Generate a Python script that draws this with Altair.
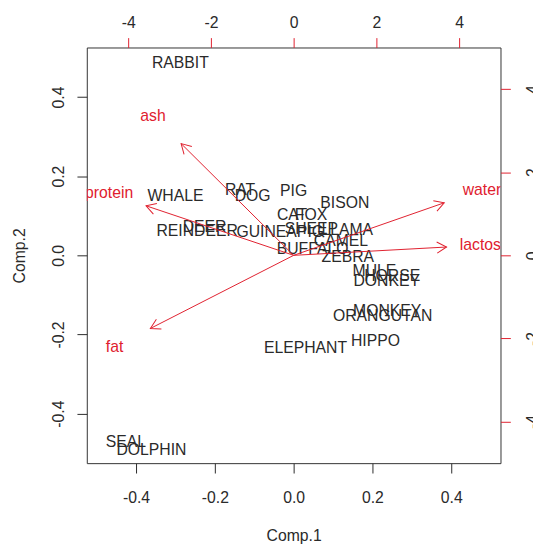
import altair as alt
import pandas as pd
import numpy as np

FONT = "Liberation Sans"
RED = "#E0202E"
DARK = "#2a2a2a"

# --- scores (Comp.1, Comp.2) ---
animals = ["RABBIT", "WHALE", "RAT", "DOG", "PIG", "DEER", "REINDEER", "GUINEAPIG",
           "CAT", "FOX", "SHEEP", "LLAMA", "BISON", "BUFFALO", "CAMEL", "ZEBRA",
           "MULE", "HORSE", "DONKEY", "MONKEY", "ORANGUTAN", "HIPPO", "ELEPHANT",
           "SEAL", "DOLPHIN"]
comp1 = [-0.2875, -0.300, -0.136, -0.104, 0.000, -0.226, -0.245, -0.034,
         -0.004, 0.044, 0.045, 0.136, 0.130, 0.048, 0.120, 0.1375,
         0.205, 0.250, 0.236, 0.2375, 0.226, 0.2075, 0.030,
         -0.426, -0.361]
comp2 = [0.485, 0.150, 0.165, 0.150, 0.1625, 0.0725, 0.0625, 0.0575,
         0.1025, 0.1025, 0.0675, 0.065, 0.1325, 0.015, 0.035, -0.005,
         -0.040, -0.053, -0.065, -0.140, -0.1525, -0.2175, -0.235,
         -0.4725, -0.4925]

# --- loadings (top/right scale) ---
variables = ["water", "protein", "fat", "lactose", "ash"]
load1 = [4.55, -4.46, -4.33, 4.62, -3.40]
load2 = [1.58, 1.49, -2.20, 0.25, 3.36]

x_ticks = [-0.4, -0.2, 0.0, 0.2, 0.4]
top_ticks = [-4, -2, 0, 2, 4]

scores = pd.DataFrame({"animal": animals, "c1": comp1, "c2": comp2})
loads = pd.DataFrame({"var": variables, "lx": load1, "ly": load2})
loads["tx"] = loads["lx"] * 0.8
loads["ty"] = loads["ly"] * 0.8
loads["x0"] = 0.0
loads["y0"] = 0.0
loads["ang"] = np.degrees(np.arctan2(-loads["ty"], loads["tx"])) % 360

W, H = 420, 422
dec_expr = "datum.value < 0 ? '-' + format(-datum.value, '.1f') : format(datum.value, '.1f')"
int_expr = "datum.value < 0 ? '-' + format(-datum.value, 'd') : format(datum.value, 'd')"

xs = alt.Scale(domain=[-0.525, 0.525], nice=False, zero=False)
ys = alt.Scale(domain=[-0.525, 0.525], nice=False, zero=False)
xs2 = alt.Scale(domain=[-5, 5], nice=False, zero=False)
ys2 = alt.Scale(domain=[-5, 5], nice=False, zero=False)

ax_bottom = alt.Axis(orient="bottom", values=x_ticks, labelExpr=dec_expr, tickSize=10,
                     tickColor=DARK, labelColor=DARK, labelFont=FONT, labelFontSize=16,
                     labelPadding=30, labelBaseline="alphabetic", labelAlign="center",
                     domain=False, grid=False, title="Comp.1", titleFont=FONT,
                     titleFontSize=16, titleFontWeight="normal", titleColor=DARK,
                     titleX=W / 2, titleY=79, titleAlign="center", titleBaseline="alphabetic")
ax_left = alt.Axis(orient="left", values=x_ticks, labelExpr=dec_expr, tickSize=10,
                   tickColor=DARK, labelColor=DARK, labelFont=FONT, labelFontSize=16,
                   labelAngle=270, labelPadding=14, labelBaseline="alphabetic",
                   labelAlign="center", domain=False, grid=False, title="Comp.2",
                   titleFont=FONT, titleFontSize=16, titleFontWeight="normal",
                   titleColor=DARK, titleAngle=270, titleX=-63, titleY=H / 2,
                   titleAlign="center", titleBaseline="alphabetic")
ax_top = alt.Axis(orient="top", values=top_ticks, labelExpr=int_expr, tickSize=10,
                  tickColor=RED, labelColor=DARK, labelFont=FONT, labelFontSize=16,
                  labelPadding=10, labelBaseline="alphabetic", labelAlign="center",
                  domain=False, grid=False, title="")
ax_right = alt.Axis(orient="right", values=top_ticks, labelExpr=int_expr, tickSize=10,
                    tickColor=RED, labelColor=DARK, labelFont=FONT, labelFontSize=16,
                    labelAngle=270, labelPadding=28, labelBaseline="alphabetic",
                    labelAlign="center", domain=False, grid=False, title="")

score_text = alt.Chart(scores).mark_text(
    font=FONT, fontSize=16, color=DARK, align="center", baseline="middle"
).encode(
    x=alt.X("c1:Q", scale=xs, axis=ax_bottom),
    y=alt.Y("c2:Q", scale=ys, axis=ax_left),
    text="animal:N",
)

base_b = alt.Chart(loads)
rules = base_b.mark_rule(color=RED, strokeWidth=1).encode(
    x=alt.X("x0:Q", scale=xs2, axis=ax_top),
    x2="tx:Q",
    y=alt.Y("y0:Q", scale=ys2, axis=ax_right),
    y2="ty:Q",
)
heads = base_b.mark_point(
    shape="M -1 -0.577 L 0 0 L -1 0.577", filled=False, color=RED,
    strokeWidth=1, size=380, opacity=1
).encode(
    x=alt.X("tx:Q", scale=xs2, axis=ax_top),
    y=alt.Y("ty:Q", scale=ys2, axis=ax_right),
    angle=alt.Angle("ang:Q", scale=None),
)
var_text = base_b.mark_text(
    font=FONT, fontSize=16, color=RED, align="center", baseline="middle", clip=True
).encode(
    x=alt.X("lx:Q", scale=xs2, axis=ax_top),
    y=alt.Y("ly:Q", scale=ys2, axis=ax_right),
    text="var:N",
)
group_b = alt.layer(rules, heads, var_text)

chart = alt.layer(score_text, group_b).resolve_scale(
    x="independent", y="independent"
).properties(
    width=W, height=H,
    autosize=alt.AutoSizeParams(type="none"),
    padding={"left": 80, "top": 36, "right": 33, "bottom": 80},
    background="white",
).configure_view(stroke="#333333", strokeWidth=1)

chart.save("out.html", embed_options={"renderer": "svg", "actions": False})
